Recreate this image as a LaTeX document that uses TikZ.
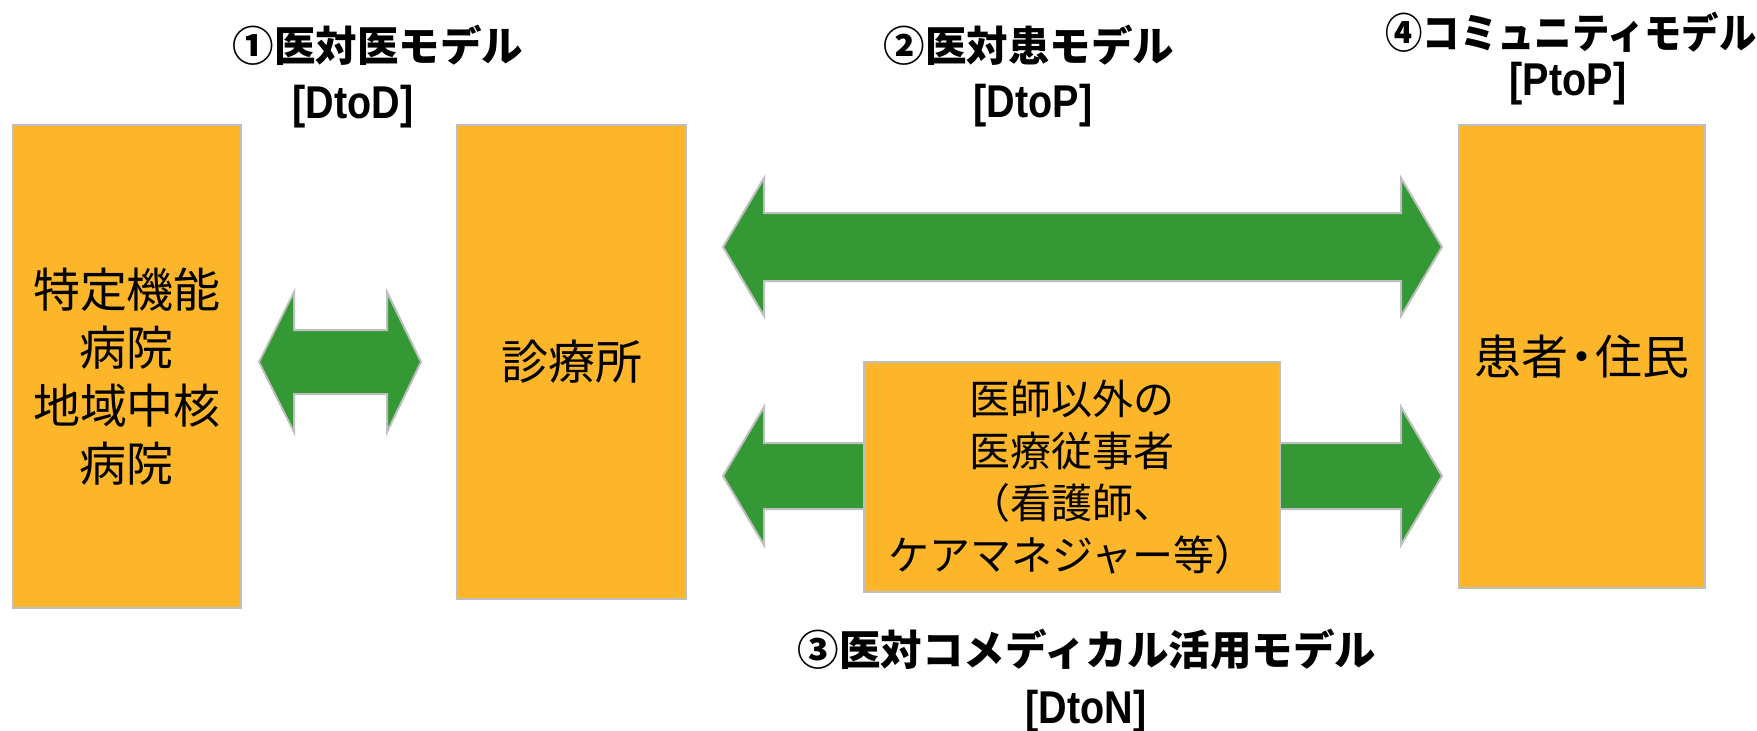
\documentclass[tikz,border=0pt]{standalone}
\usepackage{fontspec}
\usepackage{graphicx}
\setmainfont{Liberation Sans}
\newfontfamily\jp{Noto Sans CJK JP}
\definecolor{boxfill}{RGB}{253,181,42}
\definecolor{arrgreen}{RGB}{52,153,52}
\definecolor{edgegray}{RGB}{191,191,191}
\newcommand{\blockarrow}[8]{%
  \draw[blockarr] (#2,#6) -- (#3,#6-#7) -- (#3,#6-#8) -- (#4,#6-#8) -- (#4,#6-#7) -- (#5,#6)
    -- (#4,#6+#7) -- (#4,#6+#8) -- (#3,#6+#8) -- (#3,#6+#7) -- cycle;
  \coordinate (#1) at ({(#2+#5)/2},#6);}
\newcommand{\tagtext}[1]{\scalebox{0.86}[1]{#1}}
\tikzset{
  box/.style={draw=edgegray, line width=2.5pt, fill=boxfill, inner sep=0pt, align=center},
  blockarr/.style={draw=edgegray, line width=2pt, fill=arrgreen, line join=miter},
  ttl/.style={font=\jp\bfseries\fontsize{41.5}{50}\selectfont, inner sep=0pt},
  tag/.style={font=\bfseries\fontsize{46}{52}\selectfont, inner sep=0pt},
  bodybig/.style={font=\jp\fontsize{47}{58}\selectfont},
  bodysmall/.style={font=\jp\fontsize{41}{52}\selectfont}
}
\begin{document}
\begin{tikzpicture}[x=1pt,y=-1pt]
\useasboundingbox[fill=white] (0,0) rectangle (1757,731);

% boxes
\node[box, minimum width=228pt, minimum height=483pt] (hosp) at (127,366.5) {};
\node[bodybig, align=center, inner sep=0pt] (hosptext) at (127,377)
  {特定機能\\病院\\地域中核\\病院};
\node[box, bodybig, minimum width=229pt, minimum height=474pt] (clinic) at (571.5,362) {診療所};
\node[box, bodybig, minimum width=246pt, minimum height=463pt] (patient) at (1582,356.5)
  {患者\kern-0.22em・\kern-0.22em住民};

% block arrows
\blockarrow{a1}{259}{294}{387}{421}{362}{70}{32}
\blockarrow{a2}{723}{764}{1401}{1442}{247}{69}{34}
\blockarrow{a3}{723}{764}{1401}{1442}{476}{69}{33}

\node[box, bodysmall, minimum width=416pt, minimum height=230pt] (comed) at (1072,477)
  {医師以外の\\医療従事者\\（看護師、\\ケアマネジャー等）};

% titles
\node[ttl] (t1) at (378,45) {①医対医モデル};
\node[tag] (d1) at (353,107) {\tagtext{[DtoD]}};
\node[ttl] (t2) at (1029,45) {②医対患モデル};
\node[tag] (d2) at (1033,106) {\tagtext{[DtoP]}};
\node[ttl] (t4) at (1571,32) {\scalebox{0.9}[1]{④コミュニティモデル}};
\node[tag] (d4) at (1568,84) {\tagtext{[PtoP]}};
\node[ttl] (t3) at (1087,649) {③医対コメディカル活用モデル};
\node[tag] (d3) at (1086,712) {\tagtext{[DtoN]}};
\end{tikzpicture}
\end{document}
